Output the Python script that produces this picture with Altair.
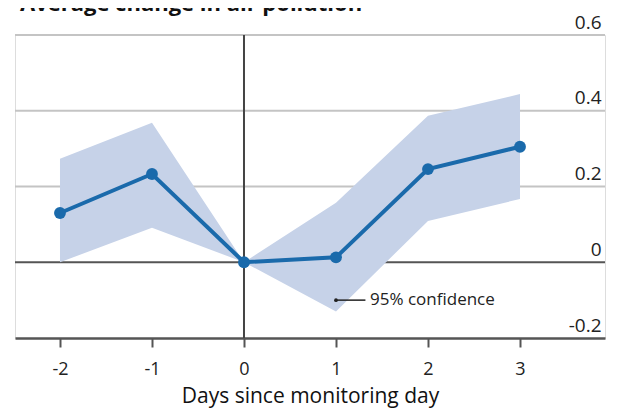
import altair as alt
import pandas as pd

days = [-2, -1, 0, 1, 2, 3]
change = [0.13, 0.233, 0.0, 0.013, 0.246, 0.305]
upper = [0.273, 0.368, 0.0, 0.157, 0.387, 0.444]
lower = [0.0, 0.091, 0.0, -0.13, 0.109, 0.167]
y_ticks = [-0.2, 0, 0.2, 0.4, 0.6]
x_ticks = [-2, -1, 0, 1, 2, 3]
title_text = "Average change in air pollution"
x_title = "Days since monitoring day"
note_text = "95% confidence"

df = pd.DataFrame({"day": days, "change": change, "upper": upper, "lower": lower})

FONT = "Open Sans"
xs = alt.Scale(domain=[-2.489, 3.924], nice=False, zero=False)
ys = alt.Scale(domain=[-0.2, 0.6], nice=False, zero=False)

x_axis = alt.Axis(values=x_ticks, title=x_title, grid=False, domain=True, domainColor="#555555",
                  domainWidth=2.5, tickColor="#555555", tickWidth=2, tickSize=9, labelFontSize=18,
                  labelFont=FONT, labelColor="#222222", labelPadding=13, titleFont=FONT,
                  titleFontSize=21, titleFontWeight="normal", titleColor="#111111",
                  titlePadding=7,
                  labelExpr="datum.value < 0 ? '-' + toString(-datum.value) : toString(datum.value)")
y_axis = alt.Axis(values=y_ticks, orient="right", title=None, grid=False, domain=False,
                  ticks=False, labelAlign="right", labelBaseline="bottom", labelPadding=-4,
                  labelOffset=-3, labelFontSize=19, labelFont=FONT,
                  labelColor="#222222",
                  labelExpr="datum.value == 0 ? '0' : (datum.value < 0 ? '-' + format(-datum.value, '.1f') : format(datum.value, '.1f'))")

grid_df = pd.DataFrame({"y": [0.2, 0.4, 0.6]})
grid = alt.Chart(grid_df).mark_rule(color="#c4c4c4", strokeWidth=2).encode(
    y=alt.Y("y:Q", scale=ys, axis=y_axis), x=alt.value(0), x2=alt.value(590))

zero_line = alt.Chart(pd.DataFrame({"y": [0]})).mark_rule(color="#555555", strokeWidth=2).encode(
    y=alt.Y("y:Q", scale=ys), x=alt.value(0), x2=alt.value(590))

vline = alt.Chart(pd.DataFrame({"x": [0]})).mark_rule(color="#444444", strokeWidth=2).encode(
    x=alt.X("x:Q", scale=xs, axis=x_axis), y=alt.value(0), y2=alt.value(303))

band = alt.Chart(df).mark_area(color="#c6d2e8", opacity=1).encode(
    x=alt.X("day:Q", scale=xs), y=alt.Y("upper:Q", scale=ys), y2="lower:Q")

line = alt.Chart(df).mark_line(color="#1a6aab", strokeWidth=4).encode(
    x=alt.X("day:Q", scale=xs), y=alt.Y("change:Q", scale=ys))

pts = alt.Chart(df).mark_circle(color="#1a6aab", size=140, opacity=1).encode(
    x=alt.X("day:Q", scale=xs), y=alt.Y("change:Q", scale=ys))

note_df = pd.DataFrame({"x": [1.0], "x2": [1.32], "y": [-0.1], "tx": [1.37]})
note_line = alt.Chart(note_df).mark_rule(color="#222222", strokeWidth=1.5).encode(
    x=alt.X("x:Q", scale=xs), x2="x2:Q", y=alt.Y("y:Q", scale=ys))
note_dot = alt.Chart(note_df).mark_circle(color="#222222", size=14, opacity=1).encode(
    x=alt.X("x:Q", scale=xs), y=alt.Y("y:Q", scale=ys))
note_text_mark = alt.Chart(note_df).mark_text(text=note_text, align="left", baseline="middle",
                                              font=FONT, fontSize=17, color="#222222").encode(
    x=alt.X("tx:Q", scale=xs), y=alt.Y("y:Q", scale=ys))

title_mark = alt.Chart(pd.DataFrame({"t": [title_text]})).mark_text(
    align="left", baseline="alphabetic", font=FONT, fontSize=22, fontWeight="bold",
    color="#111111").encode(text="t:N", x=alt.value(5), y=alt.value(-24))

chart = alt.layer(grid, zero_line, band, vline, line, pts, note_line, note_dot, note_text_mark,
                  title_mark).properties(
    width=590, height=303,
    padding={"left": 7, "top": 27, "right": 8, "bottom": 75},
    autosize=alt.AutoSizeParams(type="none"),
).configure_view(stroke=None).configure(background="white")

chart.save("out.html", embed_options={"renderer": "svg", "actions": False})
